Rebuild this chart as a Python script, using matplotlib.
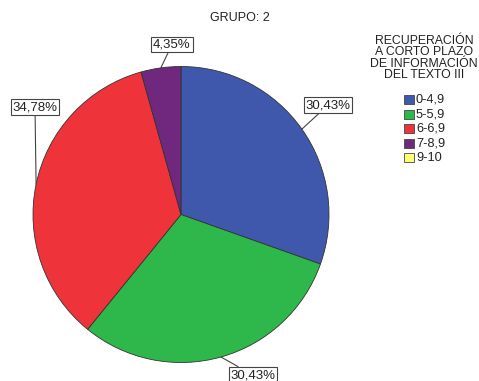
import matplotlib
matplotlib.use('Agg')
import matplotlib.pyplot as plt
from matplotlib.patches import Rectangle
import numpy as np

plt.rcParams['font.family'] = ['Liberation Sans', 'DejaVu Sans']

# datos del grafico
categorias = ['0-4,9', '5-5,9', '6-6,9', '7-8,9', '9-10']
porcentajes = [30.43, 30.43, 34.78, 4.35, 0.0]
colores = ['#3F58AB', '#2EB84B', '#EF333A', '#70287E', '#FFFF73']
titulo = 'GRUPO: 2'
titulo_leyenda = 'RECUPERACIÓN\nA CORTO PLAZO\nDE INFORMACIÓN\nDEL TEXTO III'

W, H = 479, 381
fig = plt.figure(figsize=(W / 100, H / 100), dpi=100)
ax = fig.add_axes([0, 0, 1, 1])

# solo los sectores con valor
vals = [v for v in porcentajes if v > 0]
cols = [c for v, c in zip(porcentajes, colores) if v > 0]
cx, cy, r = 181, H - 214.5, 148
wedges, _ = ax.pie(vals, colors=cols, startangle=90, counterclock=False,
                   center=(cx, cy), radius=r,
                   wedgeprops=dict(edgecolor='#333333', linewidth=0.6))
ax.set_xlim(0, W)
ax.set_ylim(0, H)
ax.set_aspect('equal')
ax.axis('off')

# posiciones de las etiquetas (pixeles, y desde arriba)
pos_etiquetas = [(328, 105), (253, 375), (35, 107), (172, 44.5)]
for w, v, (lx, ly) in zip(wedges, vals, pos_etiquetas):
    ang = np.deg2rad((w.theta1 + w.theta2) / 2)
    ex, ey = cx + r * np.cos(ang), cy + r * np.sin(ang)
    txt = ('%.2f%%' % v).replace('.', ',')
    ax.annotate(txt, xy=(ex, ey), xytext=(lx, H - ly), ha='center', va='center',
                fontsize=9.5, color='#222222',
                bbox=dict(boxstyle='square,pad=0.15', fc='white', ec='#444444', lw=0.8),
                arrowprops=dict(arrowstyle='-', color='#444444', lw=0.8,
                                shrinkA=0, shrinkB=0))

fig.text(240 / W, 1 - 18 / H, titulo, ha='center', va='center', fontsize=9, color='#222222')

# leyenda manual
fig.text(424 / W, 1 - 58 / H, titulo_leyenda, ha='center', va='center', fontsize=8.8,
         color='#222222', linespacing=0.95)
for i, (cat, col) in enumerate(zip(categorias, colores)):
    yc = 99.5 + i * 14.6
    ax.add_patch(Rectangle((404, H - yc - 4.5), 10, 9, fc=col, ec='#444444', lw=0.6))
    ax.text(416, H - yc, cat, ha='left', va='center', fontsize=9.2, color='#222222')

fig.savefig('out.png', dpi=100)
